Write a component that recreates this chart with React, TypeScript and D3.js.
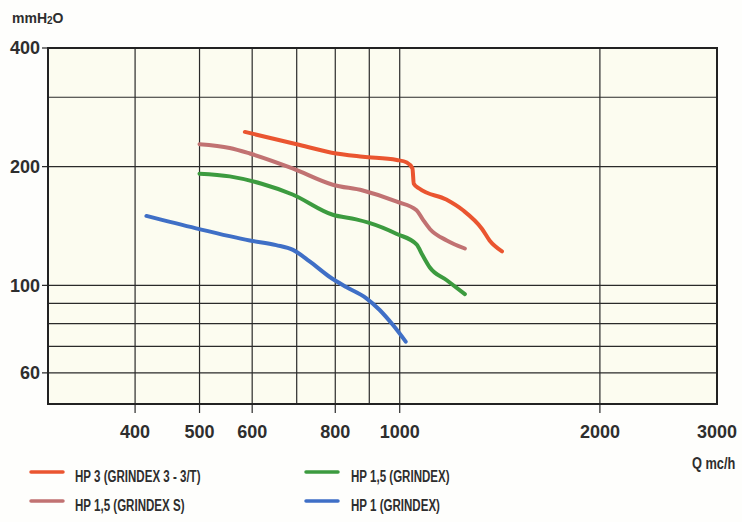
import React from "react";
import * as d3 from "d3";

const xTicks = [400, 500, 600, 800, 1000, 2000, 3000];
const xGrid = [400, 500, 600, 700, 800, 900, 1000, 2000];
const yTicks = [400, 200, 100, 60];
const yGrid = [300, 200, 100, 90, 80, 70, 60];

const hp3: [number, number][] = [
  [585, 245], [700, 228], [790, 217], [880, 212], [990, 208], [1025, 205],
  [1045, 198], [1050, 181], [1070, 176], [1175, 165], [1245, 155], [1330, 139],
  [1365, 130], [1425, 122],
];
const hp15s: [number, number][] = [
  [500, 228], [555, 223], [595, 216], [690, 198], [793, 180], [880, 174],
  [990, 163], [1060, 155], [1083, 147], [1110, 139], [1177, 130], [1253, 124],
];
const hp15: [number, number][] = [
  [500, 192], [555, 189], [620, 181], [690, 170], [793, 151], [860, 147],
  [900, 144], [990, 135], [1060, 127], [1083, 119], [1110, 111], [1177, 103],
  [1253, 95],
];
const hp1: [number, number][] = [
  [416, 150], [494, 139.5], [595, 130], [652, 126.5], [691, 123], [732, 115],
  [785, 105], [831, 99], [891, 92.7], [933, 86.6], [977, 79.3], [1021, 72],
];

const seriesNames = [
  "HP 3 (GRINDEX 3 - 3/T)",
  "HP 1,5 (GRINDEX S)",
  "HP 1,5 (GRINDEX)",
  "HP 1 (GRINDEX)",
];
const seriesColors = ["#ea5530", "#c17272", "#3c9b3f", "#3f6fc6"];
const seriesData = [hp3, hp15s, hp15, hp1];

export default function App() {
  const W = 742, H = 522;
  const L = 48, R = 717, T = 48, B = 404;
  const x = d3.scaleLog().domain([300, 3000]).range([L + 4, R]);
  const y = d3.scaleLog().domain([50, 400]).range([B, T]);
  const line = d3
    .line<[number, number]>()
    .x((d) => x(d[0]))
    .y((d) => y(d[1]))
    .curve(d3.curveMonotoneX);
  const font = "'Liberation Sans', Arial, sans-serif";
  const legendPos = [
    [31, 472], [31, 501], [306, 472], [306, 501],
  ];
  return (
    <svg
      width={W}
      height={H}
      style={{ position: "fixed", left: 0, top: 0, background: "#fefefc" }}
    >
      <rect x={L} y={T} width={R - L} height={B - T} fill="#fcfcf0" />
      {xGrid.map((v) => (
        <line
          key={"xg" + v}
          x1={x(v)}
          x2={x(v)}
          y1={T}
          y2={xTicks.includes(v) ? B + 9 : B}
          stroke="#2a2a2a"
          strokeWidth={1.2}
        />
      ))}
      {yGrid.map((v) => (
        <line
          key={"yg" + v}
          x1={yTicks.includes(v) ? L - 6 : L}
          x2={R}
          y1={y(v)}
          y2={y(v)}
          stroke="#2a2a2a"
          strokeWidth={1.2}
        />
      ))}
      <line x1={L - 6} x2={L} y1={y(400)} y2={y(400)} stroke="#222" strokeWidth={1.2} />
      <rect x={L} y={T} width={R - L} height={B - T} fill="none" stroke="#222" strokeWidth={2} />
      {seriesData.map((d, i) => (
        <path
          key={"s" + i}
          d={line(d) || ""}
          fill="none"
          stroke={seriesColors[i]}
          strokeWidth={4}
          strokeLinecap="round"
          strokeLinejoin="round"
        />
      ))}
      {yTicks.map((v) => (
        <text
          key={"yt" + v}
          x={L - 8}
          y={y(v)}
          dy="0.36em"
          textAnchor="end"
          fontFamily={font}
          fontWeight="bold"
          fontSize={18}
          fill="#2e2e2e"
        >
          {v}
        </text>
      ))}
      {xTicks.map((v) => (
        <text
          key={"xt" + v}
          x={x(v)}
          y={432}
          dy="0.36em"
          textAnchor="middle"
          fontFamily={font}
          fontWeight="bold"
          fontSize={18}
          fill="#2e2e2e"
        >
          {v}
        </text>
      ))}
      <text x={12} y={23} fontFamily={font} fontWeight="bold" fontSize={14} fill="#2e2e2e">
        mmH<tspan fontSize={10} dy={1}>2</tspan><tspan dy={-1}>O</tspan>
      </text>
      <text
        transform="translate(692,469) scale(0.8,1)"
        fontFamily={font}
        fontWeight="bold"
        fontSize={16}
        fill="#2e2e2e"
      >
        Q mc/h
      </text>
      {seriesNames.map((n, i) => (
        <g key={"lg" + i}>
          <line
            x1={legendPos[i][0]}
            x2={legendPos[i][0] + 32}
            y1={legendPos[i][1]}
            y2={legendPos[i][1]}
            stroke={seriesColors[i]}
            strokeWidth={3.5}
            strokeLinecap="round"
          />
          <text
            transform={`translate(${legendPos[i][0] + (i < 2 ? 44 : 45)},${legendPos[i][1] + 4}) scale(0.68,1)`}
            dy="0.36em"
            fontFamily={font}
            fontWeight="bold"
            fontSize={17}
            fill="#2e2e2e"
          >
            {n}
          </text>
        </g>
      ))}
    </svg>
  );
}
